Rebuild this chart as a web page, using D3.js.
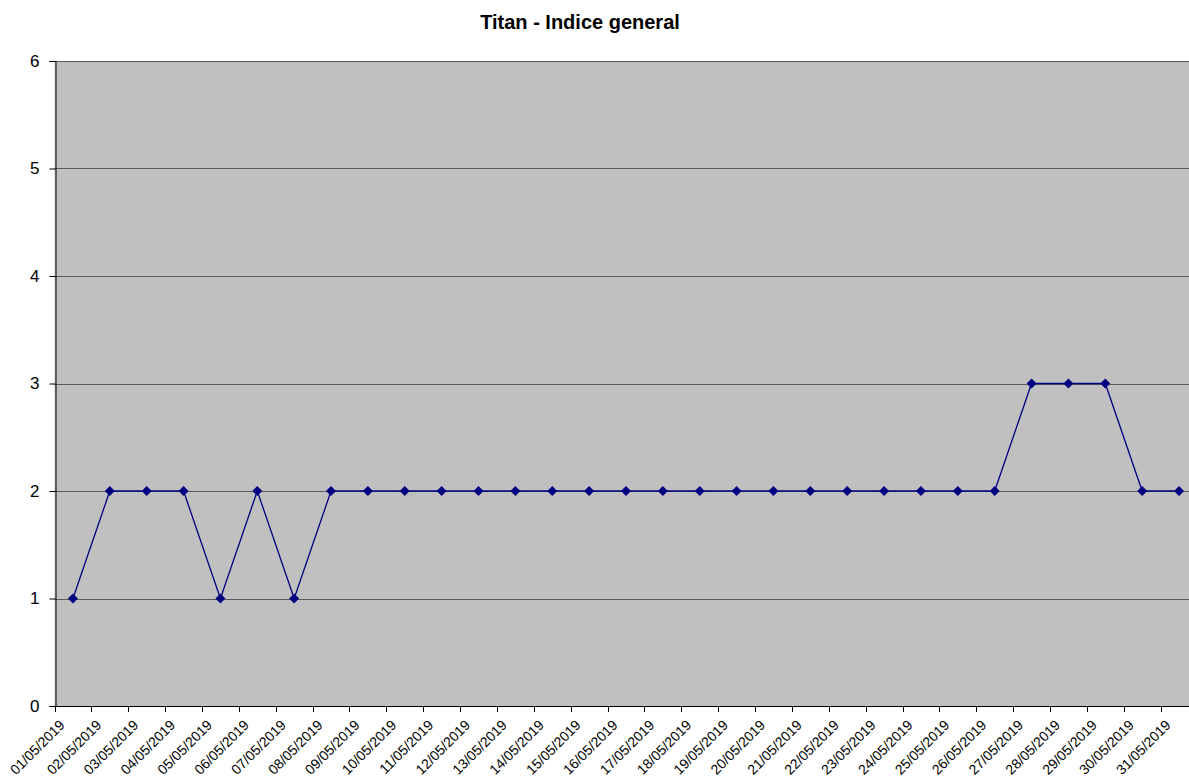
<!DOCTYPE html>
<html>
<head>
<meta charset="utf-8">
<script src="https://cdn.jsdelivr.net/npm/d3@7"></script>
<style>
  body { margin: 0; background: #fff; }
  svg { display: block; font-family: "Liberation Sans", Arial, sans-serif; }
</style>
</head>
<body>
<div id="chart"></div>
<script>
// Chart data
var dates = ["01/05/2019", "02/05/2019", "03/05/2019", "04/05/2019", "05/05/2019",
             "06/05/2019", "07/05/2019", "08/05/2019", "09/05/2019", "10/05/2019",
             "11/05/2019", "12/05/2019", "13/05/2019", "14/05/2019", "15/05/2019",
             "16/05/2019", "17/05/2019", "18/05/2019", "19/05/2019", "20/05/2019",
             "21/05/2019", "22/05/2019", "23/05/2019", "24/05/2019", "25/05/2019",
             "26/05/2019", "27/05/2019", "28/05/2019", "29/05/2019", "30/05/2019",
             "31/05/2019"];
var values = [1, 2, 2, 2, 1, 2, 1, 2, 2, 2, 2, 2, 2, 2, 2, 2, 2, 2, 2, 2,
              2, 2, 2, 2, 2, 2, 3, 3, 3, 2, 2];
var yTicks = [0, 1, 2, 3, 4, 5, 6];

var svgWidth = 1189;
var svgHeight = 778;

// plot area (runs a little past the right edge, like the original)
var plotLeft = 54.5;
var plotTop = 61;
var plotRight = plotLeft + 31 * 36.87;
var plotBottom = 706;

var svg = d3.select("#chart")
  .append("svg")
  .attr("width", svgWidth)
  .attr("height", svgHeight);

// scales
var x = d3.scaleBand()
  .domain(dates)
  .range([plotLeft, plotRight])
  .padding(0);

var y = d3.scaleLinear()
  .domain([0, 6])
  .range([plotBottom, plotTop]);

// plot background
svg.append("rect")
  .attr("x", plotLeft)
  .attr("y", plotTop)
  .attr("width", plotRight - plotLeft)
  .attr("height", plotBottom - plotTop)
  .attr("fill", "#c0c0c0");

// gridlines
svg.append("g")
  .selectAll("line")
  .data(yTicks.filter(d => d > 0))
  .enter()
  .append("line")
  .attr("x1", plotLeft)
  .attr("x2", plotRight)
  .attr("y1", d => Math.round(y(d)) + 0.5)
  .attr("y2", d => Math.round(y(d)) + 0.5)
  .attr("stroke", "#5a5a5a")
  .attr("stroke-width", 1);

// y axis
var yAxis = d3.axisLeft(y)
  .tickValues(yTicks)
  .tickFormat(d3.format("d"))
  .tickSize(6)
  .tickPadding(10);

var yg = svg.append("g")
  .attr("transform", `translate(${Math.round(plotLeft) + 0.5}, 0)`)
  .call(yAxis);
yg.select(".domain").attr("stroke", "#000");
yg.selectAll(".tick line").attr("stroke", "#000");
yg.selectAll("text")
  .attr("font-size", "17px")
  .attr("font-family", "Liberation Sans, Arial, sans-serif")
  .attr("fill", "#000");

// x axis, ticks on category boundaries
var bounds = dates.map(d => x(d));
var xg = svg.append("g");
xg.append("line")
  .attr("x1", plotLeft)
  .attr("x2", plotRight)
  .attr("y1", plotBottom + 0.5)
  .attr("y2", plotBottom + 0.5)
  .attr("stroke", "#000");
xg.selectAll(".tk")
  .data(bounds)
  .enter()
  .append("line")
  .attr("class", "tk")
  .attr("x1", d => Math.round(d) + 0.5)
  .attr("x2", d => Math.round(d) + 0.5)
  .attr("y1", plotBottom)
  .attr("y2", plotBottom + 6)
  .attr("stroke", "#000");

xg.selectAll("text")
  .data(dates)
  .enter()
  .append("text")
  .attr("transform", d => `translate(${x(d) + x.bandwidth() / 2 - 7.5}, ${plotBottom + 20}) rotate(-45)`)
  .attr("text-anchor", "end")
  .attr("font-size", "14px")
  .attr("fill", "#000")
  .text(d => d);

// series line
var line = d3.line()
  .x((d, i) => x(dates[i]) + x.bandwidth() / 2)
  .y(d => y(d));

svg.append("path")
  .datum(values)
  .attr("d", line)
  .attr("fill", "none")
  .attr("stroke", "#000080")
  .attr("stroke-width", 1.3);

// diamond markers
svg.append("g")
  .selectAll("path")
  .data(values)
  .enter()
  .append("path")
  .attr("transform", (d, i) => `translate(${x(dates[i]) + x.bandwidth() / 2}, ${y(d)}) rotate(45)`)
  .attr("d", d3.symbol().type(d3.symbolSquare).size(50))
  .attr("fill", "#000080");

// title
svg.append("text")
  .attr("x", 580)
  .attr("y", 29)
  .attr("text-anchor", "middle")
  .attr("font-size", "20px")
  .attr("font-weight", "bold")
  .attr("fill", "#000")
  .text("Titan - Indice general");
</script>
</body>
</html>
